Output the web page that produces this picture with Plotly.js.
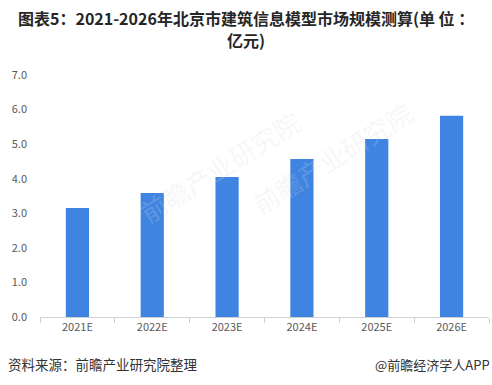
<!DOCTYPE html>
<html>
<head>
<meta charset="utf-8">
<script src="https://cdn.plot.ly/plotly-3.0.1.min.js"></script>
<style>
html,body{margin:0;padding:0;background:#fff;}
#chart{width:492px;height:385px;}
</style>
</head>
<body>
<div id="chart"></div>
<script>
const categories = ["2021E", "2022E", "2023E", "2024E", "2025E", "2026E"];
const marketSize = [3.15, 3.59, 4.05, 4.57, 5.15, 5.82];
const yTickVals = [0, 1, 2, 3, 4, 5, 6, 7];
const yTickText = ["0.0", "1.0", "2.0", "3.0", "4.0", "5.0", "6.0", "7.0"];
const titleLine1 = "<b>图表5：2021-2026年北京市建筑信息模型市场规模测算(单 位 ：</b>";
const titleLine2 = "<b>亿元)</b>";
const sourceText = "资料来源：前瞻产业研究院整理";
const brandText = "@前瞻经济学人APP";

const font = '"Noto Sans CJK SC", "Noto Sans", sans-serif';

const trace = {
  type: "bar",
  x: categories,
  y: marketSize,
  marker: {color: "#3F84E0"},
  width: 0.31,
  hoverinfo: "x+y"
};

const layout = {
  width: 492,
  height: 385,
  margin: {l: 40, r: 3, t: 75, b: 68},
  paper_bgcolor: "#fff",
  plot_bgcolor: "#fff",
  showlegend: false,
  xaxis: {
    type: "category",
    showline: true,
    linecolor: "#d0d0d0",
    linewidth: 1,
    ticks: "outside",
    tickson: "boundaries",
    ticklen: 5,
    tickcolor: "#d0d0d0",
    tickfont: {family: font, size: 11, color: "#595959"},
    showgrid: false,
    zeroline: false
  },
  yaxis: {
    range: [0, 7],
    tickvals: yTickVals,
    ticktext: yTickText,
    showgrid: false,
    zeroline: false,
    showline: false,
    ticks: "",
    ticklabelstandoff: 12,
    tickfont: {family: font, size: 11, color: "#595959"}
  },
  annotations: [
    {text: titleLine1, xref: "paper", yref: "paper", x: 0.459, y: 1.2355,
     xanchor: "center", yanchor: "middle", showarrow: false,
     font: {family: font, size: 16, color: "#262626"}},
    {text: titleLine2, xref: "paper", yref: "paper", x: 0.459, y: 1.1446,
     xanchor: "center", yanchor: "middle", showarrow: false,
     font: {family: font, size: 16, color: "#262626"}},
    {text: sourceText, xref: "paper", yref: "paper", x: -0.075, y: -0.195,
     xanchor: "left", yanchor: "middle", showarrow: false,
     font: {family: font, size: 13.5, color: "#333"}},
    {text: brandText, xref: "paper", yref: "paper", x: 1.007, y: -0.195,
     xanchor: "right", yanchor: "middle", showarrow: false,
     font: {family: font, size: 13, color: "#333"}},
    {text: "前瞻产业研究院", xref: "paper", yref: "paper", x: 0.2, y: 0.62,
     showarrow: false, textangle: -32,
     font: {family: font, size: 26, color: "rgba(215,218,225,0.22)"}},
    {text: "前瞻产业研究院", xref: "paper", yref: "paper", x: 0.85, y: 0.66,
     showarrow: false, textangle: -32,
     font: {family: font, size: 26, color: "rgba(215,218,225,0.22)"}}
  ]
};

Plotly.newPlot("chart", [trace], layout, {staticPlot: true, displayModeBar: false});
</script>
</body>
</html>
